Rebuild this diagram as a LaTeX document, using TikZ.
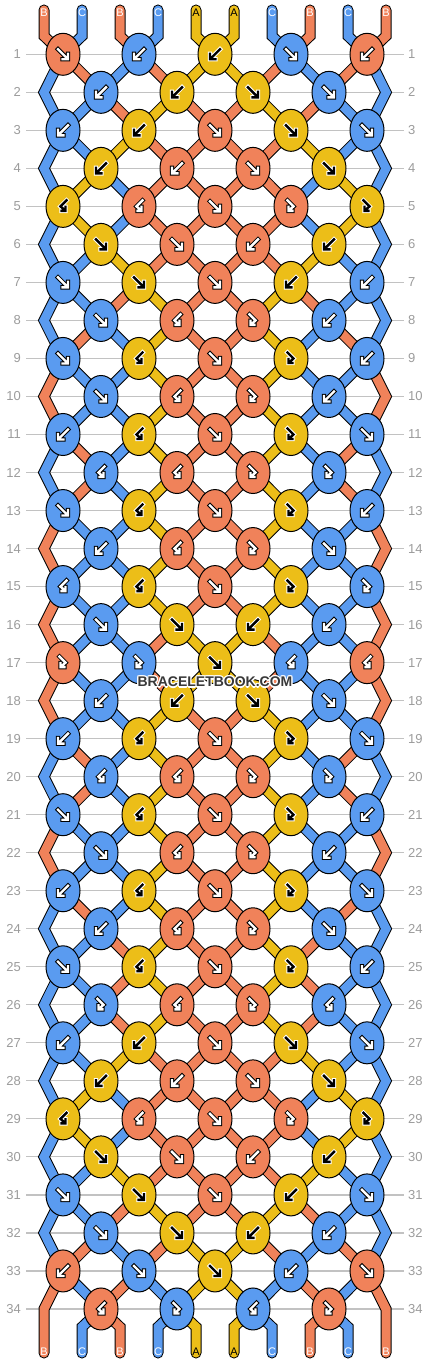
\documentclass[tikz,border=0pt]{standalone}
\usepackage{fontspec}
\setmainfont{Liberation Sans}
\usetikzlibrary{shapes.geometric}
\definecolor{cA}{HTML}{ECBE18}
\definecolor{cB}{HTML}{F0825A}
\definecolor{cC}{HTML}{5A9BF0}
\definecolor{gridc}{HTML}{C2C2C2}
\definecolor{numc}{HTML}{9C9C9C}
\definecolor{wmc}{HTML}{383838}
\tikzset{
  knot/.style={ellipse, draw=black, line width=1pt, minimum width=34pt, minimum height=42pt, inner sep=0pt},
  strout/.style={line width=11pt, draw=black, line cap=round, line join=miter},
  strin/.style={line width=9pt, line cap=round, line join=miter},
  gout/.style={line width=4.4pt, line cap=rect, line join=miter},
  gin/.style={line width=2.4pt, line cap=rect, line join=miter},
  gridl/.style={draw=gridc, line width=1.2pt},
  rowl/.style={text=numc, font=\fontsize{13}{13}\selectfont, inner sep=0pt},
  endl/.style={font=\fontsize{11}{11}\selectfont, inner sep=0pt},
  wm/.style={font=\fontsize{14}{14}\selectfont\bfseries, inner sep=0pt},
}
\newcommand\strand[2]{\draw[strout] #2; \draw[strin,draw=#1] #2;}
\newcommand\glp[1]{\draw[gout,draw=\gco] #1; \draw[gin,draw=\gci] #1;}
\newcommand\knotglyph[2]{%
  \if#2A\def\gco{white}\def\gci{black}\else\def\gco{black}\def\gci{white}\fi
  \if#1f\glp{(-5,-5) -- (3.5,3.5) (5,-0.5) -- (5,5) -- (-0.5,5)}\fi
  \if#1b\glp{(5,-5) -- (-3.5,3.5) (-5,-0.5) -- (-5,5) -- (0.5,5)}\fi
  \if#1p\glp{(-3.5,-6) -- (2.5,0) -- (-1.5,3.6) (1.5,4.5) -- (-2.5,4.5) -- (-2.5,0.5)}\fi
  \if#1q\glp{(3.5,-6) -- (-2.5,0) -- (1.5,3.6) (-1.5,4.5) -- (2.5,4.5) -- (2.5,0.5)}\fi
}
\newcommand\posx[2]{%
  \ifodd#2\relax
    \pgfmathsetmacro\px{63+76*floor((#1-1)/2)}%
  \else
    \ifnum#1=1\relax\def\px{44}%
    \else\ifnum#1=10\relax\def\px{386}%
    \else\pgfmathsetmacro\px{101+76*(floor(#1/2)-1)}%
    \fi\fi
  \fi}
\newcommand\swapst{\expandafter\xdef\csname sc\kL\endcsname{\colR}\expandafter\xdef\csname sc\kR\endcsname{\colL}}
\newcommand\initstate{\foreach \ps/\cc in {1/B,2/C,3/B,4/C,5/A,6/A,7/C,8/B,9/C,10/B}{\expandafter\xdef\csname sc\ps\endcsname{\cc}}}
\def\rowtypes{{f,b,b,f,b},{b,b,f,f},{b,b,f,f,f},{b,b,f,f},{q,q,f,p,p},{f,f,b,b},{f,f,f,b,b},{f,q,p,b},{f,q,f,p,b},{f,q,p,b},{b,q,f,p,f},{q,q,p,p},{f,q,f,p,b},{b,q,p,f},{q,q,f,p,p},{f,f,b,b},{p,p,f,q,q},{b,b,f,f},{b,q,f,p,f},{q,q,p,p},{f,q,f,p,b},{f,q,p,b},{b,q,f,p,f},{b,q,p,f},{f,q,f,p,b},{p,q,p,q},{b,b,f,f,f},{b,b,f,f},{q,q,f,p,p},{f,f,b,b},{f,f,f,b,f},{f,f,b,b},{b,f,f,b,f},{q,p,q,p}}
\newcommand\runrows{%
\foreach \TT [count=\rr] in \rowtypes {%
  \foreach \ty [count=\kk] in \TT {%
    \ifodd\rr\relax\pgfmathtruncatemacro\kL{2*\kk-1}\else\pgfmathtruncatemacro\kL{2*\kk}\fi
    \pgfmathtruncatemacro\kR{\kL+1}%
    \edef\colL{\csname sc\kL\endcsname}%
    \edef\colR{\csname sc\kR\endcsname}%
    \if\ty f\let\kc\colL\fi
    \if\ty p\let\kc\colL\fi
    \if\ty b\let\kc\colR\fi
    \if\ty q\let\kc\colR\fi
    \ifnum\passmode=2
      \node[knot,fill=c\kc] (k-\rr-\kk) at (s-\rr-\kL) {};
      \begin{scope}[shift={(s-\rr-\kL)}]\knotglyph{\ty}{\kc}\end{scope}
    \fi
    \if\ty f\swapst\fi
    \if\ty b\swapst\fi
  }%
  \ifnum\passmode=1
  \ifnum\rr<34
    \pgfmathtruncatemacro\rn{\rr+1}%
    \foreach \ps in {2,...,9}{%
      \edef\stc{\csname sc\ps\endcsname}%
      \strand{c\stc}{(s-\rr-\ps) -- (s-\rn-\ps)}%
    }%
    \ifodd\rr\relax
      \pgfmathtruncatemacro\rnn{\rr+2}%
      \foreach \ps in {1,10}{%
        \edef\stc{\csname sc\ps\endcsname}%
        \ifnum\rr<33 \strand{c\stc}{(s-\rr-\ps) -- (s-\rn-\ps) -- (s-\rnn-\ps)}%
        \else \strand{c\stc}{(s-\rr-\ps) -- (s-\rn-\ps) -- (bot-\ps)}\fi
      }%
    \fi
  \else
    \foreach \ps in {2,...,9}{%
      \edef\stc{\csname sc\ps\endcsname}%
      \strand{c\stc}{(s-34-\ps) -- (botb-\ps) -- (bot-\ps)}%
    }%
  \fi
  \fi
}}
\begin{document}
\begin{tikzpicture}[x=1pt,y=-1pt]
\fill[white] (0,0) rectangle (430,1364);
\useasboundingbox (0,0) rectangle (430,1364);
% coordinates, grid lines and row numbers
\foreach \rr in {1,...,34}{%
  \pgfmathsetmacro\py{54.3+38.02*(\rr-1)}%
  \foreach \ps in {1,...,10}{%
    \posx{\ps}{\rr}%
    \coordinate (s-\rr-\ps) at (\px,\py);
  }%
  \draw[gridl] (26,\py) -- (404,\py);
  \node[rowl,anchor=east] (nl-\rr) at (21,\py) {\rr};
  \node[rowl,anchor=west] (nr-\rr) at (408,\py) {\rr};
}
\foreach \ps in {1,...,10}{%
  \pgfmathsetmacro\sx{44+38*(\ps-1)}%
  \coordinate (top-\ps) at (\sx,10);
  \coordinate (topb-\ps) at (\sx,36);
  \coordinate (botb-\ps) at (\sx,1327);
  \coordinate (bot-\ps) at (\sx,1353);
}
% pass 1: strands
\initstate
\foreach \ps in {1,...,10}{%
  \edef\stc{\csname sc\ps\endcsname}%
  \strand{c\stc}{(top-\ps) -- (topb-\ps) -- (s-1-\ps)}%
}
\def\passmode{1}
\runrows
% pass 2: knots
\initstate
\def\passmode{2}
\runrows
% end labels
\initstate
\foreach \ps in {1,...,10}{%
  \pgfmathsetmacro\sx{44+38*(\ps-1)}%
  \edef\stc{\csname sc\ps\endcsname}%
  \if\stc A\def\tc{black}\else\def\tc{white}\fi
  \node[endl,text=\tc] (tl-\ps) at (\sx,12.5) {\stc};
  \node[endl,text=\tc] (bl-\ps) at (\sx,1352) {\stc};
}
% watermark
\foreach \dx/\dy [count=\i] in {1.2/0,-1.2/0,0/1.2,0/-1.2,0.9/0.9,-0.9/0.9,0.9/-0.9,-0.9/-0.9}{
  \node[wm,text=white] (wmh-\i) at (215+\dx,682+\dy) {BRACELETBOOK.COM};
}
\node[wm,text=wmc] (wm) at (215,682) {BRACELETBOOK.COM};
\end{tikzpicture}
\end{document}
